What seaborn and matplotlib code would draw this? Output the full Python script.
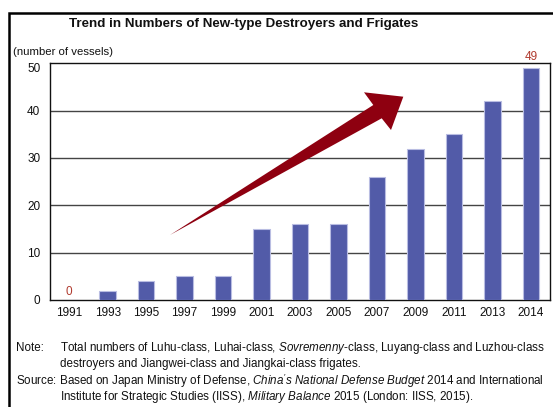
import matplotlib
matplotlib.use("Agg")
import matplotlib.pyplot as plt
import seaborn as sns
import pandas as pd
from matplotlib.patches import Polygon, Rectangle

years = ["1991", "1993", "1995", "1997", "1999", "2001", "2003", "2005",
         "2007", "2009", "2011", "2013", "2014"]
vessels = [0, 2, 4, 5, 5, 15, 16, 16, 26, 32, 35, 42, 49]
y_ticks = [0, 10, 20, 30, 40, 50]

title = "Trend in Numbers of New-type Destroyers and Frigates"
unit_label = "(number of vessels)"
note_body = ["Total numbers of Luhu-class, Luhai-class, $\\it{Sovremenny}$-class, Luyang-class and Luzhou-class",
             "destroyers and Jiangwei-class and Jiangkai-class frigates."]

df = pd.DataFrame({"year": years, "vessels": vessels})

sns.set_style("white")
plt.rcParams["font.family"] = ["Liberation Sans", "DejaVu Sans"]
plt.rcParams["mathtext.fontset"] = "custom"
plt.rcParams["mathtext.rm"] = "Liberation Sans"
plt.rcParams["mathtext.it"] = "Liberation Sans:italic"
plt.rcParams["mathtext.bf"] = "Liberation Sans:bold"

W, H = 553, 407
fig = plt.figure(figsize=(W / 100, H / 100), dpi=100)
ax = fig.add_axes([50 / W, 1 - 300 / H, 500 / W, (300 - 63.3) / H])

bar_color = "#525BA8"
sns.barplot(data=df, x="year", y="vessels", order=years, color=bar_color,
            width=0.43, edgecolor="#B9BDE2", linewidth=0.8, saturation=1, ax=ax, zorder=3)

ax.set_xlim(-0.5, len(years) - 0.5)
ax.set_ylim(0, 50)
ax.set_yticks(y_ticks)
ax.set_xlabel("")
ax.set_ylabel("")
for g in y_ticks[1:-1]:
    ax.axhline(g, color="#444444", linewidth=1.0, zorder=1)
for s in ax.spines.values():
    s.set_color("#111111")
    s.set_linewidth(1.0)
ax.tick_params(axis="both", length=0, labelsize=8.5, colors="#111111")
ax.tick_params(axis="y", pad=7)
ax.tick_params(axis="x", pad=5)
# the top tick label sits a little below the top line, as in the reference
ax.get_yticklabels()[-1].set_verticalalignment("top")

red = "#B03A2E"
ax.annotate(str(vessels[0]), xy=(0, vessels[0]), xytext=(0, 1.5), textcoords="offset points",
            ha="center", va="bottom", color=red, fontsize=8.5)
ax.annotate(str(vessels[-1]), xy=(len(years) - 1, vessels[-1]), xytext=(0, 3.5),
            textcoords="offset points", ha="center", va="bottom", color=red, fontsize=8.5,
            annotation_clip=False)

# decorative trend arrow (axes fraction)
arrow = Polygon([(0.24, 0.2746), (0.6466, 0.8238), (0.628, 0.8775), (0.7066, 0.8589),
                 (0.682, 0.7182), (0.6634, 0.7676)], closed=True,
                transform=ax.transAxes, facecolor="#8E0010", edgecolor="none", zorder=5)
ax.add_patch(arrow)

fig.text(244 / W, 1 - 24.5 / H, title, ha="center", va="center", fontsize=9.6,
         fontweight="bold", color="#111111")
fig.text(13 / W, 1 - 52 / H, unit_label, ha="left", va="center", fontsize=8.2, color="#111111")

fs = 8.4
fig.text(16 / W, 1 - 348 / H, "Note:", ha="left", va="center", fontsize=fs, color="#111111")
fig.text(60 / W, 1 - 348 / H, note_body[0], ha="left", va="center", fontsize=fs, color="#111111")
fig.text(60 / W, 1 - 364 / H, note_body[1], ha="left", va="center", fontsize=fs, color="#111111")
fig.text(16 / W, 1 - 381 / H,
         "Source: Based on Japan Ministry of Defense, $\\it{China's\\ National\\ Defense\\ Budget\\ 2014}$ and International",
         ha="left", va="center", fontsize=fs, color="#111111")
fig.text(60 / W, 1 - 397 / H,
         "Institute for Strategic Studies (IISS), $\\it{Military\\ Balance\\ 2015}$ (London: IISS, 2015).",
         ha="left", va="center", fontsize=fs, color="#111111")

frame = Rectangle((9 / W, -0.1), 1.2, 1 - 13.5 / H + 0.1, transform=fig.transFigure,
                  fill=False, edgecolor="#000000", linewidth=1.8, clip_on=False)
fig.patches.append(frame)

fig.savefig("out.png", dpi=100)
